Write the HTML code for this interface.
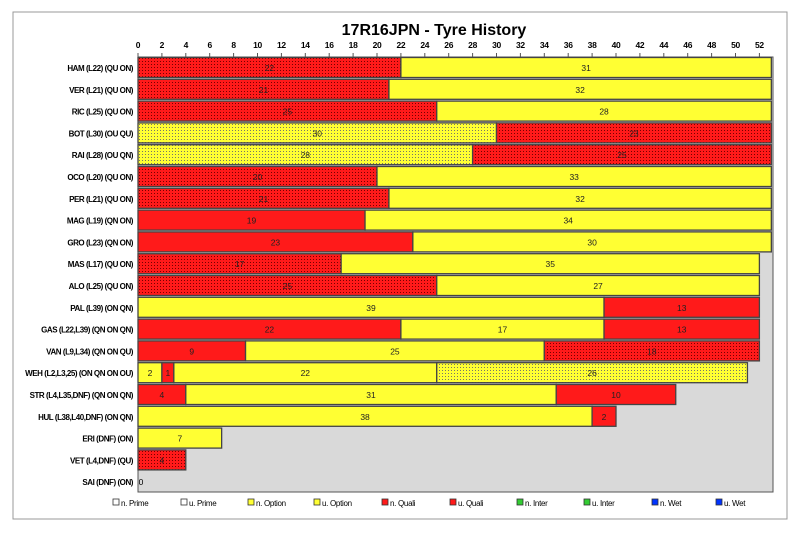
<!DOCTYPE html>
<html><head><meta charset="utf-8"><style>
body{margin:0;background:#fff;width:800px;height:533px;overflow:hidden}
svg{display:block;font-family:"Liberation Sans",sans-serif}
</style></head><body>
<svg id="s" width="800" height="533" xmlns="http://www.w3.org/2000/svg">
<defs>
<pattern id="dr" width="3" height="3" patternUnits="userSpaceOnUse"><rect width="3" height="3" fill="#ff1a1a"/><rect x="1" y="1" width="1" height="1" fill="#700"/></pattern>
<pattern id="dy" width="3" height="3" patternUnits="userSpaceOnUse"><rect width="3" height="3" fill="#ffff33"/><rect x="1" y="1" width="1" height="1" fill="#776"/></pattern>
</defs>
<rect x="13" y="12" width="774" height="507" fill="#fff" stroke="#999" stroke-width="1"/>
<text x="434" y="35" text-anchor="middle" font-size="16" font-weight="bold">17R16JPN - Tyre History</text>
<rect x="138" y="57" width="635" height="435" fill="#d9d9d9" stroke="#555" stroke-width="1"/>
<g id="g"></g>
</svg>
<script>
var g=document.getElementById('g'),h='';
var x0=138,u=11.95,top0=57,p=21.8;
for(var t=0;t<=52;t+=2){var x=x0+t*u;h+='<text x="'+x+'" y="48" text-anchor="middle" font-size="8.5" font-weight="bold" letter-spacing="-0.3">'+t+'</text><line x1="'+x+'" x2="'+x+'" y1="53" y2="57" stroke="#555"/>';}
var Y='#ffff33',R='#ff1a1a';
var rows=[
["HAM (L22) (QU ON)",[[22,'dr'],[31,Y]]],
["VER (L21) (QU ON)",[[21,'dr'],[32,Y]]],
["RIC (L25) (QU ON)",[[25,'dr'],[28,Y]]],
["BOT (L30) (OU QU)",[[30,'dy'],[23,'dr']]],
["RAI (L28) (OU QN)",[[28,'dy'],[25,'dr']]],
["OCO (L20) (QU ON)",[[20,'dr'],[33,Y]]],
["PER (L21) (QU ON)",[[21,'dr'],[32,Y]]],
["MAG (L19) (QN ON)",[[19,R],[34,Y]]],
["GRO (L23) (QN ON)",[[23,R],[30,Y]]],
["MAS (L17) (QU ON)",[[17,'dr'],[35,Y]]],
["ALO (L25) (QU ON)",[[25,'dr'],[27,Y]]],
["PAL (L39) (ON QN)",[[39,Y],[13,R]]],
["GAS (L22,L39) (QN ON QN)",[[22,R],[17,Y],[13,R]]],
["VAN (L9,L34) (QN ON QU)",[[9,R],[25,Y],[18,'dr']]],
["WEH (L2,L3,25) (ON QN ON OU)",[[2,Y],[1,R],[22,Y],[26,'dy']]],
["STR (L4,L35,DNF) (QN ON QN)",[[4,R],[31,Y],[10,R]]],
["HUL (L38,L40,DNF) (ON QN)",[[38,Y],[2,R]]],
["ERI (DNF) (ON)",[[7,Y]]],
["VET (L4,DNF) (QU)",[[4,'dr']]],
["SAI (DNF) (ON)",[]]];
rows.forEach(function(r,i){
 var y=top0+i*p+0.5, c=y+10.5;
 h+='<text x="133" y="'+(c+3)+'" text-anchor="end" font-size="8" font-weight="bold" letter-spacing="-0.45">'+r[0]+'</text>';
 var s=0;
 r[1].forEach(function(b){
  var xa=x0+s*u, w=b[0]*u, f=b[1].length==2?'url(#'+b[1]+')':b[1];
  h+='<rect x="'+xa+'" y="'+y+'" width="'+w+'" height="20" fill="'+f+'" stroke="#444" stroke-width="1.3"/>';
  h+='<text x="'+(xa+w/2)+'" y="'+(c+3)+'" text-anchor="middle" font-size="8.5" fill="#222">'+b[0]+'</text>';
  s+=b[0];
 });
 if(!r[1].length) h+='<text x="141" y="'+(c+3)+'" text-anchor="middle" font-size="8.5">0</text>';
});
var lg=[["n. Prime","#fff",0],["u. Prime","#fff",1],["n. Option",Y,0],["u. Option",Y,1],["n. Quali",R,0],["u. Quali",R,1],["n. Inter","#33cc33",0],["u. Inter","#33cc33",1],["n. Wet","#0033ff",0],["u. Wet","#0033ff",1]];
var lx=[113,181,248,314,382,450,517,584,652,716];
lg.forEach(function(l,i){
 h+='<rect x="'+lx[i]+'" y="499" width="6" height="6" fill="'+l[1]+'" stroke="#333" stroke-width="0.8"/>';
 h+='<text x="'+(lx[i]+8)+'" y="506" font-size="8" letter-spacing="-0.3">'+l[0]+'</text>';
});
g.innerHTML=h;
</script>
</body></html>
